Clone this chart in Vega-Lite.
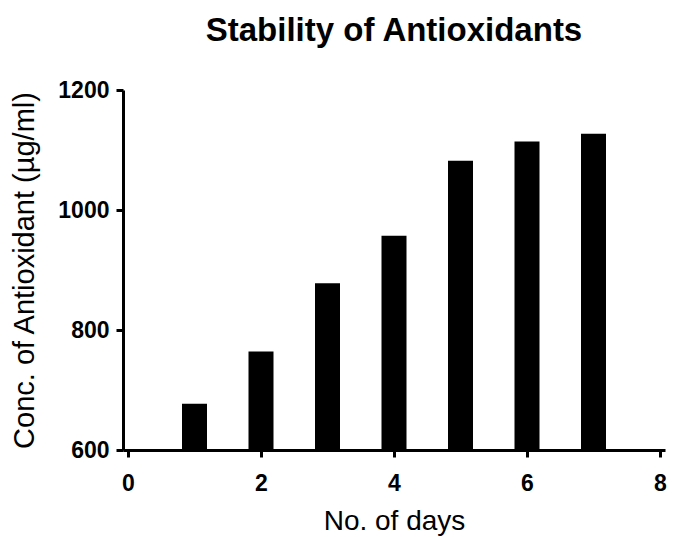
{
  "$schema": "https://vega.github.io/schema/vega-lite/v6.json",
  "autosize": {"type": "none"},
  "width": 542,
  "height": 360,
  "padding": {"left": 123, "top": 90, "right": 10, "bottom": 87},
  "background": "white",
  "title": {
    "text": "Stability of Antioxidants",
    "font": "Liberation Sans",
    "fontSize": 33,
    "fontWeight": "bold",
    "color": "black",
    "anchor": "middle",
    "offset": 31
  },
  "data": {
    "values": [
      {"day": 1, "conc": 677},
      {"day": 2, "conc": 764},
      {"day": 3, "conc": 878},
      {"day": 4, "conc": 957},
      {"day": 5, "conc": 1082},
      {"day": 6, "conc": 1114},
      {"day": 7, "conc": 1127}
    ]
  },
  "mark": {"type": "bar", "color": "black", "size": 25},
  "encoding": {
    "x": {
      "field": "day",
      "type": "quantitative",
      "scale": {"domain": [0, 8], "nice": false},
      "axis": {
        "title": "No. of days",
        "values": [0, 2, 4, 6, 8],
        "format": "d",
        "grid": false,
        "domainColor": "black",
        "domainWidth": 3,
        "tickColor": "black",
        "tickWidth": 3,
        "tickSize": 7,
        "labelFont": "Liberation Sans",
        "labelFontSize": 23,
        "labelFontWeight": "bold",
        "labelColor": "black",
        "labelPadding": 15,
        "titleFont": "Liberation Sans",
        "titleFontSize": 28,
        "titleFontWeight": "normal",
        "titleColor": "black",
        "titlePadding": 12
      }
    },
    "y": {
      "field": "conc",
      "type": "quantitative",
      "scale": {"domain": [600, 1200], "nice": false, "zero": false},
      "axis": {
        "title": "Conc. of Antioxidant (µg/ml)",
        "values": [600, 800, 1000, 1200],
        "format": "d",
        "grid": false,
        "domainColor": "black",
        "domainWidth": 3,
        "tickColor": "black",
        "tickWidth": 3,
        "tickSize": 7,
        "labelFont": "Liberation Sans",
        "labelFontSize": 23,
        "labelFontWeight": "bold",
        "labelColor": "black",
        "labelPadding": 7,
        "titleFont": "Liberation Sans",
        "titleFontSize": 29,
        "titleFontWeight": "normal",
        "titleColor": "black",
        "titlePadding": 18
      }
    },
    "y2": {"datum": 600}
  },
  "config": {"view": {"stroke": null}}
}
